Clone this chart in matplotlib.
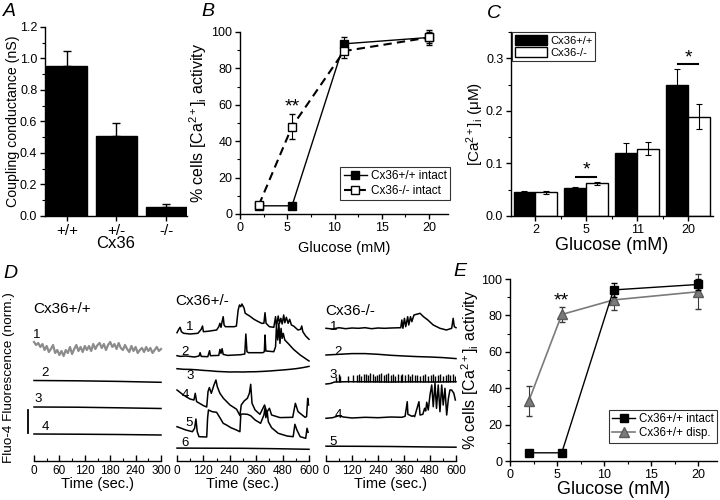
import matplotlib
matplotlib.use("Agg")
import matplotlib.pyplot as plt
import numpy as np
from matplotlib.patches import Patch
from matplotlib.lines import Line2D
from matplotlib.ticker import MultipleLocator, FixedLocator, FormatStrFormatter

plt.rcParams['font.family'] = ['Liberation Sans', 'DejaVu Sans']
plt.rcParams['mathtext.fontset'] = 'custom'
plt.rcParams['mathtext.rm'] = 'Liberation Sans'
plt.rcParams['mathtext.it'] = 'Liberation Sans:italic'
plt.rcParams['mathtext.bf'] = 'Liberation Sans:bold'
plt.rcParams['axes.linewidth'] = 1.0

# ---------------- data ----------------
# Panel A
genotypes = ["+/+", "+/-", "-/-"]
coupling = [0.95, 0.51, 0.055]
coupling_err = [0.10, 0.08, 0.02]

# Panel B
glucose_b = [2, 5.5, 11, 20]
wt_intact = [4.5, 4.5, 93.5, 97]
wt_intact_err = [0, 0, 4, 3]
ko_intact = [5, 48, 89.5, 97]
ko_intact_err = [1.5, 7, 4, 4]

# Panel C
glucose_c = ["2", "5", "11", "20"]
ca_wt = [0.045, 0.053, 0.119, 0.249]
ca_wt_err = [0.002, 0.003, 0.020, 0.031]
ca_ko = [0.045, 0.062, 0.128, 0.189]
ca_ko_err = [0.003, 0.003, 0.012, 0.024]

# Panel E
glucose_e = [2, 5.5, 11, 20]
wt_intact_e = [4.5, 4.5, 94, 97]
wt_intact_e_err = [0, 0, 4, 3]
wt_disp = [33, 80.5, 88.5, 93]
wt_disp_err = [8, 4, 5.5, 9.5]

# Panel D traces (fluorescence, arbitrary normalised units)
# Cx36+/+
wt_t1 = list(range(0, 301, 5))
wt_v1 = [6, 3, 5, 1, 4, -2, 2, -4, -1, 3, -5, -2, -7, -3, -8, -2, -5, 1, -6, -1,
         3, -3, 1, -4, 2, -2, 2, -3, 4, -1, 3, 5, 0, 4, -2, 3, 6, 1, 4, -1,
         5, 0, -2, 3, -1, -4, 2, -3, 1, -5, -2, 0, -4, 1, -3, 0, -5, -2, 1, -3, -1]
wt_flat_t = [0, 100, 200, 300]
wt_v2 = [0.5, 0.2, -0.4, -1.3]
wt_v3 = [0.5, 0.3, -0.3, -1.0]
wt_v4 = [0.3, 0.1, -0.2, -0.7]

# Cx36+/-
het_t1 = [0, 8, 14, 20, 30, 60, 95, 110, 116, 120, 140, 180, 190, 195, 200, 205, 210, 214, 220,
          260, 270, 278, 284, 290, 295, 300, 305, 310, 330, 350, 370, 385, 395, 400, 405, 420,
          440, 448, 452, 460, 466, 472, 478, 485, 490, 497, 505, 512, 520, 530, 550, 562, 567,
          572, 585, 600]
het_v1 = [7.3, 10.7, 12.7, 8.3, 6.7, 6, 6.7, 10.7, 14, 8.3, 8.7, 10, 13.3, 16.7, 12.7, 18.3, 23.3,
          15, 13.3, 13.3, 14, 30, 35, 33.3, 36, 34, 31.7, 26.7, 24, 20.7, 18.3, 16.7, 16.7, 27.3,
          16.7, 13.3, 12.7, 23.3, 13.3, 24, 16.7, 21.7, 16, 25, 17.3, 22.7, 16.7, 20.7, 15, 14,
          10, 10.7, 14, 8.3, 4, 0.7]
het_t2 = [0, 15, 40, 80, 100, 105, 110, 140, 148, 152, 190, 195, 200, 205, 210, 230, 290, 308,
          313, 318, 325, 390, 397, 400, 404, 440, 448, 452, 458, 463, 468, 473, 478, 483, 490,
          505, 530, 560, 600]
het_v2 = [6, 5.3, 5.7, 4.7, 5.7, 9, 5.3, 5, 11, 6, 6.3, 12.3, 8.3, 13, 7.3, 6.3, 7, 7.7, 27.7,
          10, 9, 9, 10, 26.7, 10.7, 10, 15, 35, 21.7, 38.3, 18.3, 33.3, 23.3, 28.3, 21.7, 18.3,
          12.3, 6.7, 0.7]
het_t3 = [0, 30, 60, 90, 120, 150, 180, 210, 240, 270, 300, 330, 360, 390, 420, 450, 480, 510,
          540, 570, 600]
het_v3 = [4, 3.4, 3.3, 2.9, 2.3, 1.9, 1.3, 1.0, 0.7, 0.8, 0.7, 0.9, 1, 1.3, 1.7, 2.2, 2.7, 3.3,
          4, 5, 6.3]
het_t4 = [0, 29, 59, 77, 83, 89, 120, 135, 141, 147, 156, 168, 177, 183, 195, 211, 241, 271,
          286, 292, 305, 320, 329, 335, 341, 355, 377, 398, 408, 420, 430, 468, 526, 538, 550,
          582, 589, 594, 598]
het_v4 = [28.3, 23.3, 19.3, 18.3, 25, 16.7, 12.7, 11.3, 26.7, 30.7, 25, 33.3, 38.3, 31.7, 25,
          20, 13.3, 9, 2.7, 13.3, 17.3, 20, 25, 34, 15, 8.3, 4, 13.3, 6, 10, 3.3, 0.7, 1, 15,
          6.7, 1, 1.7, 20, 13.3]
het_t5 = [0, 20, 40, 70, 80, 86, 92, 100, 135, 139, 143, 160, 180, 195, 210, 225, 245, 270,
          286, 290, 300, 320, 335, 355, 380, 395, 400, 404, 410, 415, 430, 460, 500, 528, 536,
          545, 560, 585, 591, 596]
het_v5 = [12.3, 10.7, 9, 7.3, 10.7, 20, 7.3, 2.3, 2, 20.7, 29, 27.3, 26.7, 21.3, 15.7, 14, 11.3,
          9, 7.3, 24.7, 25, 24.7, 23.3, 19, 15.7, 24, 30.7, 21.3, 27.3, 17.3, 11.3, 5.7, 3, 2.3,
          14.7, 9, 2.3, 0.7, 10.7, 6.7]
het_t6 = [0, 150, 300, 450, 600]
het_v6 = [0.2, 0.1, 0.0, -0.4, -1.0]

# Cx36-/-
ko_t1 = [0, 30, 60, 90, 120, 150, 180, 210, 240, 270, 300, 345, 350, 355, 362, 368, 377, 382,
         390, 396, 406, 418, 434, 450, 470, 495, 526, 556, 580, 587, 592, 600]
ko_v1 = [1.7, 1, 2.3, 1.3, 2, 1.7, 2.3, 1.3, 2, 1.7, 2, 2.3, 10, 1.7, 11.7, 3.3, 13.3, 5, 13.3,
         8.3, 15, 15.7, 16.7, 13.3, 10, 5, 1.7, 0, 1.7, 11.7, 3.3, 2.3]
ko_t2 = [0, 60, 120, 180, 240, 300, 360, 420, 480, 540, 600]
ko_v2 = [3.3, 4, 4.7, 4.7, 4, 3, 2.3, 1.7, 1.3, 0.7, -0.3]
ko_spike_t3 = [48, 58, 64, 100, 123, 142, 152, 161, 174, 185, 194, 204, 215, 224, 234, 246,
               255, 266, 278, 287, 298, 310, 319, 331, 344, 353, 365, 378, 387, 399, 412, 421,
               434, 447, 456, 469, 483, 492, 504, 518, 527, 539, 553, 562, 574, 587, 596]
ko_spike_h3 = [5, 8, 6, 6, 7, 7, 8, 6, 8, 8, 7, 9, 8, 6, 7, 8, 9, 7, 8, 9, 7, 8, 6, 8, 7, 8, 7,
               8, 6, 8, 7, 7, 6, 7, 8, 6, 7, 8, 6, 7, 8, 6, 7, 8, 7, 8, 6]
ko_t3 = [0, 20, 40, 100, 200, 300, 400, 500, 600]
ko_v3 = [-2, -1.5, 0, 0.3, 0.2, 0, 0.2, 0, 0.3]
ko_t4 = [0, 30, 60, 80, 120, 180, 240, 300, 350, 365, 375, 378, 397, 403, 409, 429, 434, 447,
         455, 460, 465, 472, 480, 488, 495, 503, 510, 518, 526, 534, 541, 549, 557, 565, 572,
         580, 590, 597]
ko_v4 = [0.7, 1.3, 3.3, 2, 1, 1.7, 1.3, 2, 1.7, 2.7, 17.3, 4.7, 2.7, 3.3, 2.3, 17.3, 4, 4.7,
         10.7, 8, 16.7, 9, 24, 34, 12.3, 35.7, 10.7, 34, 7.3, 34, 14, 30.7, 4, 20.7, 29, 29,
         25.7, 19]
ko_t5 = [0, 150, 300, 450, 600]
ko_v5 = [0.5, 0.4, 0.2, -0.2, -0.5]

# ---------------- figure ----------------
fig = plt.figure(figsize=(7.2, 5), dpi=100)


def rect(l, r, t, b):
    return [l / 720, 1 - b / 500, (r - l) / 720, (b - t) / 500]


TICK = 9


def style(ax, direction='out'):
    for s in ['top', 'right']:
        ax.spines[s].set_visible(False)
    ax.tick_params(which='major', direction=direction, length=3.5, width=1, labelsize=TICK, pad=2)
    ax.tick_params(which='minor', direction=direction, length=2, width=0.8)


def panel_label(x, y, s):
    fig.text(x / 720, 1 - y / 500, s, fontsize=14, style='italic', ha='left', va='center')


CA_LABEL = r"% cells [Ca$^{2+}$]$_\mathregular{i}$ activity"

# Panel A
axA = fig.add_axes(rect(45, 187, 27, 216))
xa = np.arange(len(genotypes))
axA.bar(xa, coupling, width=0.82, color='black', edgecolor='black')
axA.errorbar(xa, coupling, yerr=[np.zeros(len(xa)), coupling_err], fmt='none',
             ecolor='black', elinewidth=1, capsize=3, capthick=1)
axA.set_xlim(-0.44, 2.42)
axA.set_ylim(0, 1.2)
axA.set_xticks(xa)
axA.set_xticklabels(genotypes)
axA.yaxis.set_major_locator(MultipleLocator(0.2))
axA.yaxis.set_minor_locator(MultipleLocator(0.1))
axA.yaxis.set_major_formatter(FormatStrFormatter('%.1f'))
style(axA)
axA.tick_params(axis='x', labelsize=11)
axA.set_ylabel("Coupling conductance (nS)", fontsize=10.2, va='center')
axA.yaxis.set_label_coords(-0.225, 0.5)
axA.set_xlabel("Cx36", fontsize=12, labelpad=-1)
panel_label(3, 12, "A")

# Panel B
axB = fig.add_axes(rect(240, 448, 32, 214))
axB.errorbar(glucose_b, wt_intact, yerr=wt_intact_err, color='black', lw=1, marker='s', ms=6,
             mfc='black', mec='black', capsize=2.5, elinewidth=0.8, clip_on=False, zorder=3)
axB.errorbar(glucose_b, ko_intact, yerr=ko_intact_err, color='black', lw=1.5, ls=(0, (4, 2.5)),
             marker='s', ms=6, mfc='white', mec='black', capsize=2.5, elinewidth=0.8,
             clip_on=False, zorder=4)
axB.set_xlim(0, 22)
axB.set_ylim(0, 100)
axB.xaxis.set_major_locator(MultipleLocator(5))
axB.xaxis.set_minor_locator(MultipleLocator(2.5))
axB.yaxis.set_major_locator(MultipleLocator(20))
axB.yaxis.set_minor_locator(MultipleLocator(10))
style(axB)
axB.set_xlabel("Glucose (mM)", fontsize=10.5, labelpad=5)
axB.set_ylabel(CA_LABEL, fontsize=11.5, labelpad=2)
axB.text(glucose_b[1], 59, "**", ha='center', va='center', fontsize=14)
hB = [Line2D([], [], color='black', lw=1, marker='s', ms=6, mfc='black'),
      Line2D([], [], color='black', lw=1.5, ls=(0, (4, 2.5)), marker='s', ms=6, mfc='white')]
legB = axB.legend(hB, ["Cx36+/+ intact", "Cx36-/- intact"], loc='lower right',
                  bbox_to_anchor=(1.01, 0.075), fontsize=8.5, frameon=True, fancybox=False,
                  edgecolor='black', handlelength=2.0, handletextpad=0.3, borderpad=0.3,
                  labelspacing=0.2, borderaxespad=0)
legB.get_frame().set_linewidth(0.8)
panel_label(201, 12, "B")

# Panel C
axC = fig.add_axes(rect(511, 713, 32, 216))
xc = np.arange(len(glucose_c))
bw = 0.43
axC.bar(xc - bw / 2, ca_wt, width=bw, color='black', edgecolor='black', lw=1)
axC.bar(xc + bw / 2, ca_ko, width=bw, color='white', edgecolor='black', lw=1)
axC.errorbar(xc - bw / 2, ca_wt, yerr=ca_wt_err, fmt='none', ecolor='black', elinewidth=0.8,
             capsize=2.5, capthick=0.8)
axC.errorbar(xc + bw / 2, ca_ko, yerr=ca_ko_err, fmt='none', ecolor='black', elinewidth=0.8,
             capsize=2.5, capthick=0.8)
axC.set_xlim(-0.48, 3.49)
axC.set_ylim(0, 0.35)
axC.set_xticks(xc)
axC.set_xticklabels(glucose_c)
axC.xaxis.set_minor_locator(FixedLocator([0.5, 1.5, 2.5]))
axC.yaxis.set_major_locator(MultipleLocator(0.1))
axC.yaxis.set_minor_locator(MultipleLocator(0.05))
axC.yaxis.set_major_formatter(FormatStrFormatter('%.1f'))
style(axC)
axC.set_xlabel("Glucose (mM)", fontsize=13, labelpad=1)
axC.set_ylabel(r"[Ca$^{2+}$]$_\mathregular{i}$ (μM)", fontsize=11, labelpad=0)
for gi, ly in [(1, 0.075), (3, 0.289)]:
    axC.plot([gi - 0.2, gi + 0.2], [ly, ly], color='black', lw=1.5)
    axC.text(gi, ly + 0.012, "*", ha='center', va='center', fontsize=14)
hC = [Patch(facecolor='black', edgecolor='black'), Patch(facecolor='white', edgecolor='black')]
legC = axC.legend(hC, ["Cx36+/+", "Cx36-/-"], loc='upper left', bbox_to_anchor=(0.005, 1.0),
                  fontsize=8, frameon=True, fancybox=False, edgecolor='black',
                  handlelength=2.9, handleheight=1.0, handletextpad=0.3, borderpad=0.25,
                  labelspacing=0.15, borderaxespad=0)
legC.get_frame().set_linewidth(0.8)
panel_label(487, 13, "C")

# Panel D
D_BOTTOM = 461
D_TOP = 295


def d_axes(l, r, tmax, major, minor):
    ax = fig.add_axes(rect(l, r, D_TOP, D_BOTTOM))
    ax.set_xlim(0, tmax)
    ax.set_ylim(0, D_BOTTOM - D_TOP)
    for s in ['top', 'right', 'left']:
        ax.spines[s].set_visible(False)
    ax.set_yticks([])
    ax.xaxis.set_major_locator(MultipleLocator(major))
    ax.xaxis.set_minor_locator(MultipleLocator(minor))
    ax.tick_params(axis='x', which='major', direction='in', length=4, width=1,
                   labelsize=8.5, pad=3)
    ax.tick_params(axis='x', which='minor', direction='in', length=2.5, width=0.8)
    ax.set_xlabel("Time (sec.)", fontsize=10.5, labelpad=0)
    return ax


def trace(ax, t, v, base_px, color='black', lw=1.1):
    ax.plot(t, np.asarray(v) + (D_BOTTOM - base_px), color=color, lw=lw, clip_on=False)


def lab(ax, t, px, s):
    ax.text(t, D_BOTTOM - px, s, ha='center', va='center', fontsize=9.5, clip_on=False)


axD1 = d_axes(34, 161, 300, 60, 30)
trace(axD1, wt_t1, wt_v1, 348, color='#8c8c8c', lw=1.6)
trace(axD1, wt_flat_t, wt_v2, 381)
trace(axD1, wt_flat_t, wt_v3, 407.5)
trace(axD1, wt_flat_t, wt_v4, 434.3)
for s, t, px in [("1", 6, 335.5), ("2", 26, 372.5), ("3", 9, 399.5), ("4", 26, 426.5)]:
    lab(axD1, t, px, s)
axD1.text(-2, D_BOTTOM - 309, "Cx36+/+", ha='left', va='center', fontsize=11, clip_on=False)
axD1.plot([-14, -14], [D_BOTTOM - 410, D_BOTTOM - 433], color='black', lw=1.3, clip_on=False)

axD2 = d_axes(177, 309, 600, 120, 60)
trace(axD2, het_t1, het_v1, 340)
trace(axD2, het_t2, het_v2, 361.7)
trace(axD2, het_t3, het_v3, 372.7)
trace(axD2, het_t4, het_v4, 418.3)
trace(axD2, het_t5, het_v5, 439)
trace(axD2, het_t6, het_v6, 448.3)
for s, t, px in [("1", 59, 326.7), ("2", 36, 351.7), ("3", 59, 376), ("4", 36, 395),
                 ("5", 56, 423.3), ("6", 36, 443.3)]:
    lab(axD2, t, px, s)
axD2.text(-9, D_BOTTOM - 301, "Cx36+/-", ha='left', va='center', fontsize=11, clip_on=False)

axD3 = d_axes(326, 456, 600, 120, 60)
trace(axD3, ko_t1, ko_v1, 330)
trace(axD3, ko_t2, ko_v2, 358.3)
trace(axD3, ko_t3, ko_v3, 382)
axD3.vlines(ko_spike_t3, D_BOTTOM - 382, D_BOTTOM - 382 + np.asarray(ko_spike_h3),
            color='black', lw=1.0)
trace(axD3, ko_t4, ko_v4, 419)
trace(axD3, ko_t5, ko_v5, 446.7)
for s, t, px in [("1", 34, 326.7), ("2", 57, 351.7), ("3", 34, 375), ("4", 57, 415),
                 ("5", 34, 441.7)]:
    lab(axD3, t, px, s)
axD3.text(-5, D_BOTTOM - 311, "Cx36-/-", ha='left', va='center', fontsize=11, clip_on=False)

fig.text(9 / 720, 1 - 378 / 500, "Fluo-4 Fluorescence (norm.)", rotation=90, ha='center',
         va='center', fontsize=9.7)
panel_label(3, 273, "D")

# Panel E
axE = fig.add_axes(rect(510, 717, 279, 461))
axE.errorbar(glucose_e, wt_intact_e, yerr=wt_intact_e_err, color='black', lw=1, marker='s',
             ms=6, mfc='black', mec='black', capsize=2.5, elinewidth=0.8, clip_on=False, zorder=4)
axE.errorbar(glucose_e, wt_disp, yerr=wt_disp_err, color='#7a7a7a', lw=1.2, marker='^', ms=7,
             mfc='#7a7a7a', mec='#5a5a5a', ecolor='#3a3a3a', capsize=2.5, elinewidth=0.8,
             clip_on=False, zorder=3)
axE.set_xlim(0, 22)
axE.set_ylim(0, 100)
axE.xaxis.set_major_locator(MultipleLocator(5))
axE.xaxis.set_minor_locator(MultipleLocator(2.5))
axE.yaxis.set_major_locator(MultipleLocator(20))
axE.yaxis.set_minor_locator(MultipleLocator(10))
style(axE)
axE.set_xlabel("Glucose (mM)", fontsize=13, labelpad=0)
axE.set_ylabel(CA_LABEL, fontsize=11.5, labelpad=0)
axE.text(glucose_e[1], 88, "**", ha='center', va='center', fontsize=14)
hE = [Line2D([], [], color='black', lw=1, marker='s', ms=6, mfc='black'),
      Line2D([], [], color='#7a7a7a', lw=1.2, marker='^', ms=7, mfc='#7a7a7a', mec='#5a5a5a')]
legE = axE.legend(hE, ["Cx36+/+ intact", "Cx36+/+ disp."], loc='lower right',
                  bbox_to_anchor=(1.0, 0.10), fontsize=8.3, frameon=True, fancybox=False,
                  edgecolor='black', handlelength=2.0, handletextpad=0.3, borderpad=0.3,
                  labelspacing=0.2, borderaxespad=0)
legE.get_frame().set_linewidth(0.8)
panel_label(453, 272, "E")

fig.savefig("out.png", dpi=100)
